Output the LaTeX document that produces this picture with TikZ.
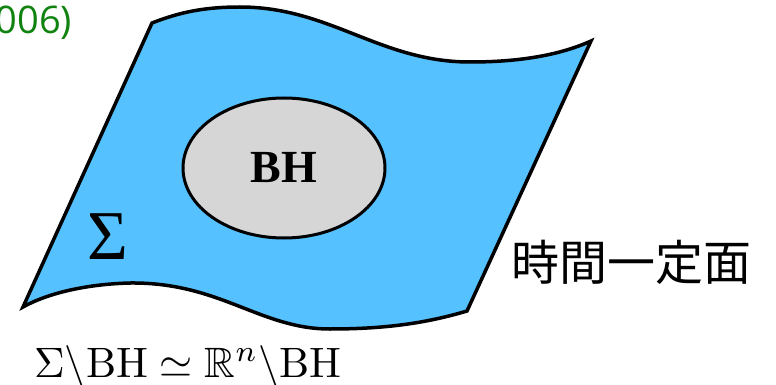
\documentclass[tikz,border=0pt]{standalone}
\usepackage{fontspec}
\usepackage{amssymb}
\usetikzlibrary{shapes.geometric}
\newfontfamily\serifL{Liberation Serif}
\newfontfamily\cjkfont{Noto Sans CJK JP}
\newfontfamily\sansO{Open Sans}
\definecolor{surf}{RGB}{85,193,255}
\definecolor{bhgray}{RGB}{214,214,214}
\definecolor{grn}{RGB}{15,130,15}
\tikzset{
  surface/.style={draw=black, fill=surf, line width=3.5pt, line join=miter},
  hole/.style={ellipse, draw=black, fill=bhgray, line width=3pt, inner sep=0pt,
    minimum width=202pt, minimum height=140pt},
  lbl/.style={inner sep=0pt, outer sep=0pt}
}
\begin{document}
\begin{tikzpicture}[x=1pt, y=-1pt]
\useasboundingbox (0,0) rectangle (776,385);
% surface
\path[surface]
  (152,23) .. controls (180,12) and (205,7) .. (240,7)
  .. controls (330,7) and (380,62) .. (470,62)
  .. controls (520,62) and (560,55) .. (591,41)
  -- (467,311)
  .. controls (430,322) and (390,329) .. (330,329)
  .. controls (260,329) and (220,282) .. (130,283)
  .. controls (90,284) and (50,292) .. (23,307)
  -- cycle;
% black hole
\node[hole] (bh) at (284,168) {\serifL\bfseries\fontsize{46}{46}\selectfont BH};
% Sigma
\node[lbl] (sig) at (108,237) {\serifL\fontsize{70}{70}\selectfont Σ};
% Japanese label
\node[lbl] (jp) at (631,262) {\cjkfont\fontsize{48}{48}\selectfont 時間一定面};
% formula
\node[lbl, scale=4.25, anchor=base] (eq) at (188,377) {$\Sigma\backslash\mathrm{BH}\simeq\mathbb{R}^{n}\backslash\mathrm{BH}$};
% green citation fragment
\node[lbl, anchor=base east, text=grn] (cite) at (72,34) {\sansO\fontsize{38}{38}\selectfont 006)};
\end{tikzpicture}
\end{document}
